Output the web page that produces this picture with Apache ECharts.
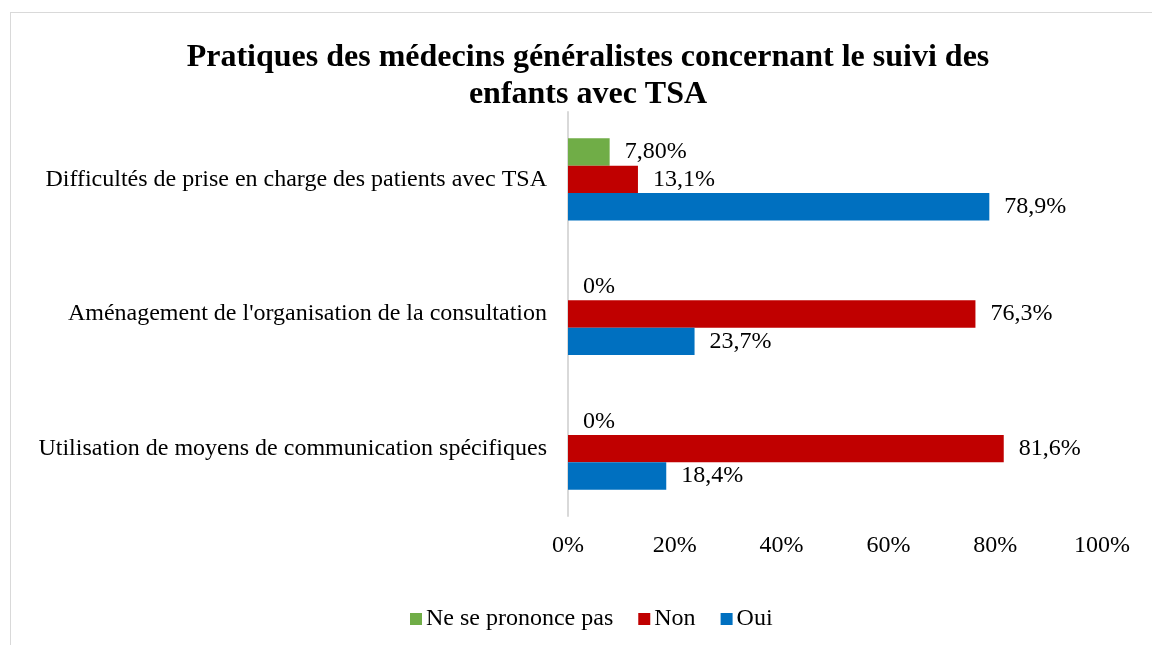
<!DOCTYPE html>
<html>
<head>
<meta charset="utf-8">
<script src="https://cdn.jsdelivr.net/npm/echarts@6/dist/echarts.min.js"></script>
<style>
html,body{margin:0;padding:0;background:#fff;overflow:hidden;}
#frame{position:absolute;left:10px;top:12px;width:1200px;height:700px;border:1px solid #d9d9d9;box-sizing:border-box;}
#chart{position:absolute;left:0;top:0;width:1152px;height:645px;}
</style>
</head>
<body>
<div id="frame"></div>
<div id="chart"></div>
<script>
var titleText = "Pratiques des médecins généralistes concernant le suivi des\nenfants avec TSA";
var categories = [
  "Utilisation de moyens de communication spécifiques",
  "Aménagement de l'organisation de la consultation",
  "Difficultés de prise en charge des patients avec TSA"
];
var seriesNames = ["Ne se prononce pas", "Non", "Oui"];
var nspValues = [0, 0, 7.8];
var nonValues = [81.6, 76.3, 13.1];
var ouiValues = [18.4, 23.7, 78.9];
var nspLabels = ["0%", "0%", "7,80%"];
var nonLabels = ["81,6%", "76,3%", "13,1%"];
var ouiLabels = ["18,4%", "23,7%", "78,9%"];
var xTicks = [0, 20, 40, 60, 80, 100];

var colors = ["#70AD47", "#C00000", "#0070C0"];
var FONT = "'Liberation Serif', 'Times New Roman', serif";

function mk(name, vals, labels, color) {
  return {
    name: name,
    type: 'bar',
    data: vals,
    barGap: '0%',
    barCategoryGap: '39%',
    itemStyle: { color: color },
    label: {
      show: true,
      position: 'right',
      distance: 15,
      color: '#000',
      fontFamily: FONT,
      fontSize: 24,
      formatter: function (p) { return labels[p.dataIndex]; }
    }
  };
}

var chart = echarts.init(document.getElementById('chart'), null, { renderer: 'canvas' });
chart.setOption({
  backgroundColor: 'transparent',
  animation: false,
  title: {
    text: titleText,
    left: 583,
    top: 34,
    textAlign: 'center',
    textStyle: { fontFamily: FONT, fontWeight: 'bold', fontSize: 32, color: '#000', lineHeight: 37 }
  },
  legend: {
    data: seriesNames,
    left: 405,
    top: 602,
    icon: 'rect',
    itemWidth: 12,
    itemHeight: 12,
    itemGap: 25,
    textStyle: { fontFamily: FONT, fontSize: 24, color: '#000', padding: [0, 0, 0, -1] }
  },
  grid: { left: 568, right: 50, top: 112, bottom: 129, containLabel: false },
  xAxis: {
    type: 'value',
    min: xTicks[0],
    max: xTicks[xTicks.length - 1],
    interval: 20,
    axisLine: { show: false },
    axisTick: { show: false },
    splitLine: { show: false },
    axisLabel: { formatter: '{value}%', fontFamily: FONT, fontSize: 24, color: '#000', margin: 18 }
  },
  yAxis: {
    type: 'category',
    data: categories,
    axisLine: { show: true, lineStyle: { color: '#d9d9d9', width: 2 } },
    axisTick: { show: false },
    axisLabel: { fontFamily: FONT, fontSize: 24, color: '#000', margin: 21 }
  },
  series: [
    mk(seriesNames[0], nspValues, nspLabels, colors[0]),
    mk(seriesNames[1], nonValues, nonLabels, colors[1]),
    mk(seriesNames[2], ouiValues, ouiLabels, colors[2])
  ]
});
</script>
</body>
</html>
